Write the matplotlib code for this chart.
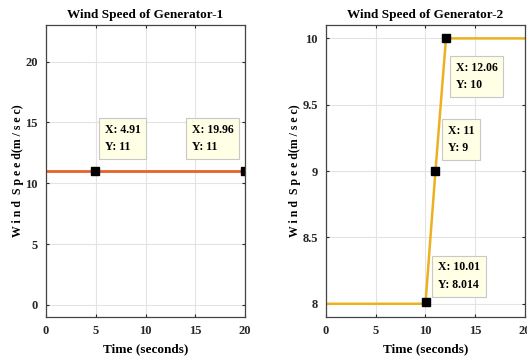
import numpy as np
import matplotlib
matplotlib.use('Agg')
import matplotlib.pyplot as plt

plt.rcParams['font.family'] = 'Liberation Serif'
plt.rcParams['font.weight'] = 'bold'
plt.rcParams['axes.titleweight'] = 'bold'
plt.rcParams['axes.labelweight'] = 'bold'

# generator 1: constant wind speed
t1 = [0, 20]
w1 = [11, 11]
tips1_x = [4.91, 19.96]
tips1_y = [11, 11]

# generator 2: step from 8 to 10 m/s
t2 = [0, 10, 10.01, 11, 12.06, 20]
w2 = [8, 8, 8.014, 9, 10, 10]
tips2_x = [12.06, 11, 10.01]
tips2_y = [10, 9, 8.014]
tips2_lbl = ['12.06', '11', '10.01']
tips2_ylbl = ['10', '9', '8.014']

fig = plt.figure(figsize=(5.27, 3.64), dpi=100)
ax1 = fig.add_axes([0.0873, 0.129, 0.3776, 0.802])
ax2 = fig.add_axes([0.6186, 0.129, 0.3776, 0.802])

box = dict(boxstyle='square,pad=0.5', fc='#FFFFE6', ec='#C8C8C8', lw=0.8)

def style(ax):
    ax.grid(True, color='#E3E3E3', lw=0.8)
    ax.set_axisbelow(True)
    ax.tick_params(direction='in', length=2.5, top=True, right=True,
                   labelsize=9, colors='#262626', pad=6)
    for lab in ax.get_xticklabels() + ax.get_yticklabels():
        lab.set_fontweight('bold')
    for s in ax.spines.values():
        s.set_color('#444444')
        s.set_linewidth(0.9)
    ax.set_xlim(0, 20)
    ax.set_xticks([0, 5, 10, 15, 20])
    ax.set_xlabel('Time (seconds)', fontsize=9.5, labelpad=4)
    ax.set_ylabel('W i n d  S p e e d(m / s e c)', fontsize=8.5, labelpad=1)

ax1.plot(t1, w1, color='#E8602C', lw=2)
ax1.plot(tips1_x, tips1_y, 's', color='black', ms=6, ls='none')
ax1.set_ylim(-1, 23)
ax1.set_yticks([0, 5, 10, 15, 20])
ax1.set_title('Wind Speed of Generator-1', fontsize=9.5, pad=5)
style(ax1)
offs1 = [(7, 13), (-38, 13)]
for x, y, o in zip(tips1_x, tips1_y, offs1):
    ax1.annotate('X: %g\nY: %g' % (x, y), xy=(x, y), xytext=o,
                 textcoords='offset points', fontsize=8.5, fontweight='bold',
                 bbox=box, va='bottom', ha='left', linespacing=1.6)

ax2.plot(t2, w2, color='#EDB120', lw=1.8)
ax2.plot(tips2_x, tips2_y, 's', color='black', ms=6, ls='none')
ax2.set_ylim(7.9, 10.1)
ax2.set_yticks([8, 8.5, 9, 9.5, 10])
ax2.set_yticklabels(['8', '8.5', '9', '9.5', '10'])
ax2.set_title('Wind Speed of Generator-2', fontsize=9.5, pad=5)
style(ax2)
offs2 = [(7, -17), (9, 12), (9, 8)]
for x, y, xl, yl, o in zip(tips2_x, tips2_y, tips2_lbl, tips2_ylbl, offs2):
    ax2.annotate('X: %s\nY: %s' % (xl, yl), xy=(x, y), xytext=o,
                 textcoords='offset points', fontsize=8.5, fontweight='bold',
                 bbox=box, va='bottom' if o[1] > 0 else 'top', ha='left',
                 linespacing=1.6)

fig.savefig('out.png', dpi=100)
